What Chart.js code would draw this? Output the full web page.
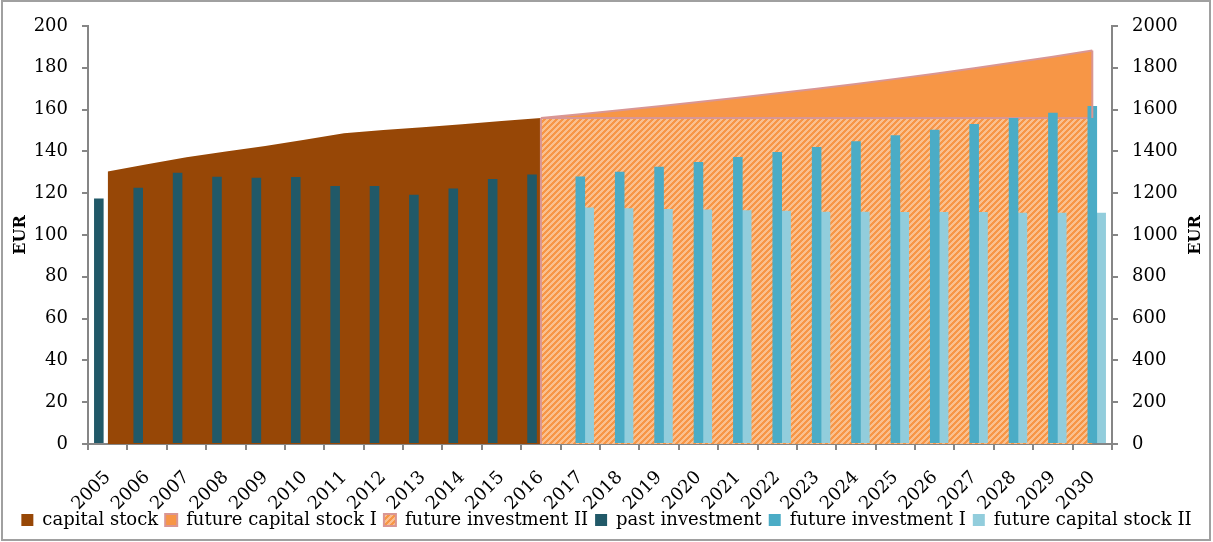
<!DOCTYPE html>
<html>
<head>
<meta charset="utf-8">
<script src="https://cdn.jsdelivr.net/npm/chart.js@4.4.0/dist/chart.umd.min.js"></script>
<style>
  html, body { margin: 0; padding: 0; background: #fff; }
  #wrap { position: absolute; left: 0; top: 0; width: 1213px; height: 542px; }
  #frame { position: absolute; left: 1px; top: 0; width: 1210px; height: 541px;
           border: 2px solid #a0a0a0; box-sizing: border-box; pointer-events: none; }
</style>
</head>
<body>
<div id="wrap"><canvas id="chart"></canvas></div>
<div id="frame"></div>
<script>
// categories
const years = ['2005','2006','2007','2008','2009','2010','2011','2012','2013','2014','2015','2016','2017',
  '2018','2019','2020','2021','2022','2023','2024','2025','2026','2027','2028','2029','2030'];

// areas (right axis)
const capitalStock = [1304, 1338, 1372, 1400, 1426, 1456, 1487, 1502, 1515, 1530, 1545, 1560,
  null, null, null, null, null, null, null, null, null, null, null, null, null, null];
const futureCapitalStockI = [null, null, null, null, null, null, null, null, null, null, null,
  1560, 1578, 1597, 1616, 1636, 1657, 1678, 1700, 1723, 1747, 1772, 1798, 1825, 1853, 1883];
const futureInvestmentII = [null, null, null, null, null, null, null, null, null, null, null,
  1560, 1560, 1560, 1560, 1560, 1560, 1560, 1560, 1560, 1560, 1560, 1560, 1560, 1560, 1560];

// bars (left axis)
const pastInvestment = [117.5, 122.6, 129.8, 127.9, 127.4, 127.7, 123.4, 123.4, 119.3, 122.2, 126.8, 128.9,
  null, null, null, null, null, null, null, null, null, null, null, null, null, null];
const futureInvestmentI = [null, null, null, null, null, null, null, null, null, null, null, null,
  128.0, 130.3, 132.7, 134.9, 137.3, 139.7, 142.1, 144.8, 147.7, 150.4, 153.1, 156.0, 158.5, 161.7];
const futureCapitalStockII = [null, null, null, null, null, null, null, null, null, null, null, null,
  113.1, 112.8, 112.5, 112.2, 111.9, 111.6, 111.1, 111.1, 111.0, 111.0, 111.0, 110.7, 110.6, 110.6];

const leftTicks = [0, 20, 40, 60, 80, 100, 120, 140, 160, 180, 200];
const rightTicks = [0, 200, 400, 600, 800, 1000, 1200, 1400, 1600, 1800, 2000];

const axisGrey = '#868686';
const pink = '#D99694';

Chart.defaults.font.family = 'DejaVu Serif';
Chart.defaults.color = '#000';

// wide upward diagonal hatch
function makeHatch() {
  const c = document.createElement('canvas');
  c.width = 6; c.height = 6;
  const g = c.getContext('2d');
  g.fillStyle = '#F79646';
  g.fillRect(0, 0, 6, 6);
  g.fillStyle = '#FAC08F';
  for (let r = 0; r < 6; r++) {
    for (let k = 0; k < 3; k++) g.fillRect((11 - r + k) % 6, r, 1, 1);
  }
  return g.createPattern(c, 'repeat');
}
const hatch = makeHatch();

// side edges of the future areas + right axis title
const extras = {
  id: 'extras',
  afterDatasetsDraw(chart) {
    const { ctx, scales } = chart;
    const x = scales.x, y1 = scales.y1;
    ctx.save();
    ctx.strokeStyle = pink;
    ctx.lineWidth = 2;
    // left edge of hatched area and right edge of future capital stock I
    const i0 = futureInvestmentII.findIndex(v => v !== null);
    const iN = futureCapitalStockI.length - 1;
    ctx.beginPath();
    ctx.moveTo(x.getPixelForValue(i0), y1.getPixelForValue(futureInvestmentII[i0]));
    ctx.lineTo(x.getPixelForValue(i0), y1.getPixelForValue(0));
    ctx.moveTo(x.getPixelForValue(iN), y1.getPixelForValue(futureCapitalStockI[iN]));
    ctx.lineTo(x.getPixelForValue(iN), y1.getPixelForValue(futureInvestmentII[iN]));
    ctx.stroke();
    ctx.restore();
  },
  afterDraw(chart) {
    const ctx = chart.ctx;
    ctx.save();
    ctx.translate(1196, (chart.chartArea.top + chart.chartArea.bottom) / 2);
    ctx.rotate(-Math.PI / 2);
    ctx.font = 'bold 16px "DejaVu Serif"';
    ctx.fillStyle = '#000';
    ctx.textAlign = 'center';
    ctx.textBaseline = 'middle';
    ctx.fillText('EUR', 0, 0);
    ctx.restore();
  }
};

const grid = { display: true, drawOnChartArea: false, drawTicks: true, tickLength: 6, color: axisGrey, lineWidth: 2 };

new Chart(document.getElementById('chart'), {
  type: 'bar',
  data: {
    labels: years,
    datasets: [
      { type: 'line', label: 'capital stock', data: capitalStock, yAxisID: 'y1',
        backgroundColor: '#974706', borderColor: '#974706', borderWidth: 0,
        fill: 'origin', pointRadius: 0, tension: 0, order: 2 },
      { type: 'line', label: 'future capital stock I', data: futureCapitalStockI, yAxisID: 'y1',
        backgroundColor: '#F79646', borderColor: pink, borderWidth: 2,
        fill: 'origin', pointRadius: 0, tension: 0, order: 2 },
      { type: 'line', label: 'future investment II', data: futureInvestmentII, yAxisID: 'y1',
        backgroundColor: hatch, borderColor: pink, borderWidth: 2,
        fill: 'origin', pointRadius: 0, tension: 0, order: 1 },
      { label: 'past investment', data: pastInvestment, yAxisID: 'y',
        backgroundColor: '#215968', order: 0 },
      { label: 'future investment I', data: futureInvestmentI, yAxisID: 'y',
        backgroundColor: '#4BACC6', order: 0 },
      { label: 'future capital stock II', data: futureCapitalStockII, yAxisID: 'y',
        backgroundColor: '#92CDDC', order: 0 }
    ]
  },
  options: {
    responsive: true,
    maintainAspectRatio: false,
    animation: false,
    categoryPercentage: 0.675,
    barPercentage: 1.08,
    layout: { padding: { top: 26, left: 0, right: 0, bottom: 3 } },
    plugins: {
      legend: {
        position: 'bottom',
        labels: {
          boxWidth: 12, boxHeight: 12, padding: 7,
          font: { size: 18 },
          sort: (a, b) => a.datasetIndex - b.datasetIndex
        }
      },
      tooltip: { enabled: false }
    },
    scales: {
      x: {
        grid: { ...grid, offset: true },
        border: { display: true, color: axisGrey, width: 2 },
        ticks: { font: { size: 18 }, minRotation: 45, maxRotation: 45, padding: 17 },
        afterFit(s) {
          s.height = 60;
          // rotated year labels run a little past the axis box; don't clip them
          s._computeLabelArea = () => undefined;
        }
      },
      y: {
        position: 'left', min: 0, max: 200,
        grid: grid,
        border: { display: true, color: axisGrey, width: 2 },
        afterBuildTicks(s) { s.ticks = leftTicks.map(v => ({ value: v })); },
        ticks: { font: { size: 18 }, padding: 14, callback: v => String(v) },
        title: { display: true, text: 'EUR', font: { size: 16, weight: 'bold' }, padding: { top: 11, bottom: 0 } },
        afterFit(s) { s.width = 88; }
      },
      y1: {
        position: 'right', min: 0, max: 2000,
        grid: grid,
        border: { display: true, color: axisGrey, width: 2 },
        afterBuildTicks(s) { s.ticks = rightTicks.map(v => ({ value: v })); },
        ticks: { font: { size: 18 }, padding: 14, callback: v => String(v) },
        afterFit(s) { s.width = 101; }
      }
    }
  },
  plugins: [extras]
});
</script>
</body>
</html>
